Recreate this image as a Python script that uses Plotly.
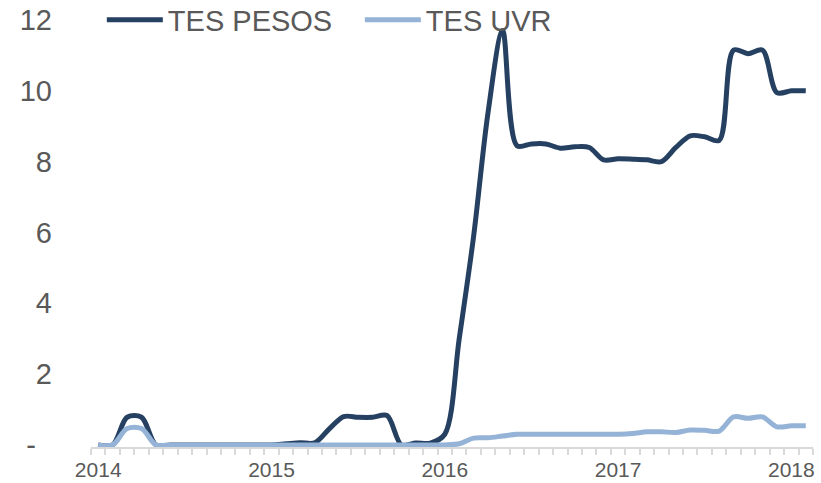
import plotly.graph_objects as go

# Monthly observations, Jan 2014 .. Feb 2018
months = [f"{y}-{m:02d}" for y in range(2014, 2019) for m in range(1, 13)][:50]
tes_pesos = [0, 0, 0.78, 0.78, 0, 0, 0, 0, 0, 0, 0, 0,
             0, 0.03, 0.06, 0.06, 0.45, 0.8, 0.78, 0.78, 0.83, 0, 0.05, 0.05,
             0.3, 3.0, 5.9, 9.4, 11.7, 8.45, 8.5, 8.5, 8.38, 8.42, 8.4, 8.05,
             8.08, 8.07, 8.05, 8.0, 8.4, 8.73, 8.7, 8.6, 11.15, 11.05, 11.15, 9.95,
             10.0, 10.0]
tes_uvr = [0, 0, 0.46, 0.46, 0, 0, 0, 0, 0, 0, 0, 0,
           0, 0, 0, 0, 0, 0, 0, 0, 0, 0, 0, 0,
           0, 0.03, 0.19, 0.2, 0.25, 0.3, 0.3, 0.3, 0.3, 0.3, 0.3, 0.3,
           0.3, 0.32, 0.37, 0.37, 0.35, 0.42, 0.41, 0.39, 0.79, 0.75, 0.79, 0.51,
           0.54, 0.54]
year_labels = ["2014", "2015", "2016", "2017", "2018"]
y_ticks = [0, 2, 4, 6, 8, 10, 12]
y_ticktext = ["-\u00a0\u00a0", "2", "4", "6", "8", "10", "12"]

idx = list(range(len(months)))
year_pos = [months.index(f"{y}-01") for y in year_labels]

FONT = "Liberation Sans, Arial, sans-serif"
GREY = "#595959"

fig = go.Figure()
fig.add_trace(go.Scatter(x=idx, y=tes_pesos, name="TES PESOS", mode="lines",
                         line=dict(color="#254061", width=5, shape="spline", smoothing=0.9)))
fig.add_trace(go.Scatter(x=idx, y=tes_uvr, name="TES UVR", mode="lines",
                         line=dict(color="#95B3D7", width=5, shape="spline", smoothing=0.9)))

fig.update_layout(
    width=821, height=483,
    margin=dict(l=91, r=8, t=20, b=36, autoexpand=False),
    paper_bgcolor="white", plot_bgcolor="white",
    font=dict(family=FONT, color=GREY),
    showlegend=True,
    legend=dict(orientation="h", x=0.015, y=1.0, xanchor="left", yanchor="middle",
                bgcolor="rgba(0,0,0,0)", font=dict(size=29, color=GREY),
                itemwidth=56, entrywidth=187, entrywidthmode="pixels", tracegroupgap=0),
    xaxis=dict(range=[-0.5, 49.5], tickmode="array", tickvals=year_pos, ticktext=year_labels,
               ticks="", showgrid=False, zeroline=False,
               showline=True, linecolor="#D9D9D9", linewidth=2,
               tickfont=dict(size=21, color=GREY), ticklabelstandoff=3,
               minor=dict(ticks="outside", tick0=-0.5, dtick=1, ticklen=6,
                          tickcolor="#D9D9D9", tickwidth=2, showgrid=False)),
    yaxis=dict(range=[-0.06, 12], tickmode="array", tickvals=y_ticks, ticktext=y_ticktext,
               ticks="", showgrid=False, zeroline=False, showline=False,
               tickfont=dict(size=29, color=GREY), ticklabelstandoff=38),
)

fig.write_html("out.html", config={"displayModeBar": False},
               post_script="document.body.style.margin='0';")
